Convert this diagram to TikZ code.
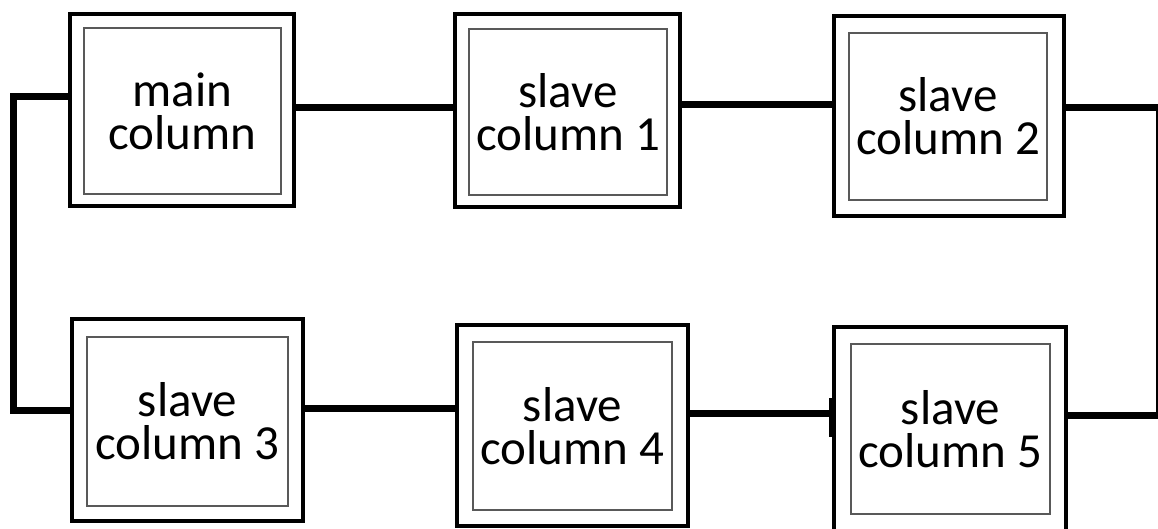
\documentclass[tikz,border=0pt]{standalone}
\usepackage{fontspec}
\setmainfont{Carlito}
\begin{document}
\begin{tikzpicture}[x=1pt,y=-1pt,
  outerbox/.style={draw=black,line width=3.5pt,inner sep=0pt,fill=white},
  innerbox/.style={draw=black!65,line width=2pt,inner sep=0pt,align=center,
                   font=\fontsize{49}{43}\selectfont},
  wire/.style={line width=7pt},
  thinwire/.style={line width=1.5pt}]
\useasboundingbox (0,0) rectangle (1158,529);
% outer frames
\node[outerbox,minimum width=224pt,minimum height=192pt] (m)  at (182,110) {};
\node[outerbox,minimum width=225pt,minimum height=193pt] (s1) at (567.5,110.5) {};
\node[outerbox,minimum width=230pt,minimum height=200pt] (s2) at (949,116) {};
\node[outerbox,minimum width=231pt,minimum height=202pt] (s3) at (187.5,420) {};
\node[outerbox,minimum width=231pt,minimum height=201pt] (s4) at (572.5,425.5) {};
\node[outerbox,minimum width=232pt,minimum height=206pt] (s5) at (950,430) {};
% inner frames with text
\node[innerbox,minimum width=197pt,minimum height=166pt] (mi)  at (182.5,111) {main\\column};
\node[innerbox,minimum width=198pt,minimum height=166pt] (s1i) at (568,112) {slave\\column 1};
\node[innerbox,minimum width=198pt,minimum height=167pt] (s2i) at (948,116.5) {slave\\column 2};
\node[innerbox,minimum width=201pt,minimum height=169pt] (s3i) at (187.5,421.5) {slave\\column 3};
\node[innerbox,minimum width=199pt,minimum height=168pt] (s4i) at (572.5,426) {slave\\column 4};
\node[innerbox,minimum width=199pt,minimum height=170pt] (s5i) at (950.5,429) {slave\\column 5};
% connector levels
\coordinate (L1) at (13,97);
\coordinate (L2) at (13,410);
\coordinate (y1) at (0,108);
\coordinate (y2) at (0,105);
\coordinate (y4) at (0,408);
\coordinate (y5) at (0,413);
\coordinate (R1) at (1158,108);
\coordinate (R2) at (1158,415);
\coordinate (t1) at (0,398);
\coordinate (t2) at (0,437);
% connectors
\draw[wire] (m.west |- L1) -- (L1) -- (L2) -- (s3.west |- L2);
\draw[wire] (m.east |- y1) -- (s1.west |- y1);
\draw[wire] (s1.east |- y2) -- (s2.west |- y2);
\draw[wire] (s2.east |- R1) -- (R1);
\draw[thinwire] ([xshift=-1pt]R1) -- ([xshift=-1pt]R2);
\draw[wire] (s5.east |- R2) -- (R2);
\draw[wire] (s3.east |- y4) -- (s4.west |- y4);
\draw[wire] (s4.east |- y5) -- (s5.west |- y5);
\draw[line width=7pt] (s5.west |- t1) -- (s5.west |- t2);
\end{tikzpicture}
\end{document}
